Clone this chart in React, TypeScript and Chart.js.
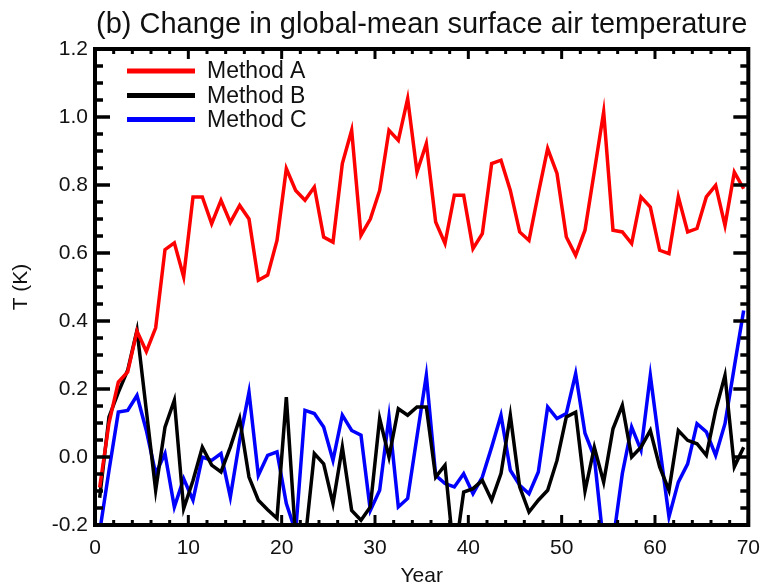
import React, { useEffect, useRef } from "react";
import { Chart, registerables } from "chart.js";

Chart.register(...registerables);

// Model years: annual means plotted at mid-year
const YEARS: number[] = Array.from({ length: 70 }, (_, i) => i + 0.5);

const METHOD_A: number[] = [
  -0.09, 0.1, 0.22, 0.25, 0.37, 0.31, 0.38, 0.61, 0.63, 0.53,
  0.765, 0.765, 0.686, 0.755, 0.69, 0.74, 0.7, 0.52, 0.535, 0.637,
  0.848, 0.784, 0.755, 0.794, 0.647, 0.632, 0.863, 0.961, 0.652, 0.7,
  0.784, 0.961, 0.931, 1.054, 0.838, 0.922, 0.691, 0.628, 0.77, 0.77,
  0.613, 0.657, 0.863, 0.873, 0.784, 0.662, 0.637, 0.775, 0.907, 0.834,
  0.647, 0.593, 0.667, 0.84, 1.015, 0.667, 0.662, 0.628, 0.765, 0.735,
  0.608, 0.598, 0.765, 0.662, 0.672, 0.765, 0.799, 0.681, 0.838, 0.789,
];

const METHOD_B: number[] = [
  -0.12, 0.118, 0.19, 0.255, 0.373, 0.137, -0.098, 0.088, 0.167, -0.152,
  -0.069, 0.029, -0.024, -0.044, 0.029, 0.113, -0.059, -0.127, -0.155, -0.18,
  0.176, -0.24, -0.25, 0.01, -0.02, -0.137, 0.029, -0.157, -0.186, -0.147,
  0.113, 0.0, 0.142, 0.123, 0.147, 0.147, -0.059, -0.024, -0.3, -0.103,
  -0.093, -0.069, -0.127, -0.049, 0.123, -0.088, -0.162, -0.127, -0.098, -0.01,
  0.118, 0.132, -0.1, 0.029, -0.074, 0.083, 0.152, 0.0, 0.029, 0.078,
  -0.029, -0.098, 0.078, 0.049, 0.039, 0.005, 0.137, 0.24, -0.029, 0.029,
];

const METHOD_C: number[] = [
  -0.22, -0.04, 0.132, 0.137, 0.181, 0.078, -0.049, 0.01, -0.147, -0.064,
  -0.127, 0.0, -0.01, 0.01, -0.118, 0.049, 0.191, -0.054, 0.005, 0.015,
  -0.137, -0.22, 0.137, 0.128, 0.088, -0.01, 0.123, 0.078, 0.064, -0.157,
  -0.098, 0.118, -0.147, -0.122, 0.06, 0.24, -0.054, -0.078, -0.088, -0.049,
  -0.108, -0.059, 0.029, 0.123, -0.039, -0.083, -0.108, -0.044, 0.147, 0.113,
  0.128, 0.245, 0.07, 0.0, -0.26, -0.25, -0.049, 0.088, 0.02, 0.24,
  0.03, -0.176, -0.074, -0.02, 0.098, 0.074, 0.005, 0.098, 0.265, 0.431,
];

const SERIES_NAMES: string[] = ["Method A", "Method B", "Method C"];
const SERIES_COLORS: string[] = ["#ff0000", "#000000", "#0000ff"];
const TITLE = "(b) Change in global-mean surface air temperature";

const FONT = "'Liberation Sans', Arial, sans-serif";
const TEXT_COLOR = "#111";

const toPoints = (ys: number[]) => ys.map((y, i) => ({ x: YEARS[i], y }));

// Boxed frame with inward ticks on all four sides, legend and title
const framePlugin = {
  id: "frame",
  afterDatasetsDraw(chart: any) {
    const { ctx, chartArea: a, scales } = chart;
    const x = scales.x;
    const y = scales.y;
    ctx.save();
    ctx.strokeStyle = "#000";
    ctx.lineCap = "butt";

    const seg = (x1: number, y1: number, x2: number, y2: number) => {
      ctx.beginPath();
      ctx.moveTo(x1, y1);
      ctx.lineTo(x2, y2);
      ctx.stroke();
    };

    ctx.lineWidth = 3;
    for (let v = 0; v <= 70; v += 2) {
      const px = x.getPixelForValue(v);
      const len = v % 10 === 0 ? 10 : 5;
      seg(px, a.bottom, px, a.bottom - len);
      seg(px, a.top, px, a.top + len);
    }
    ctx.lineWidth = 3.5;
    for (let k = -4; k <= 24; k++) {
      const py = y.getPixelForValue(k * 0.05);
      const len = k % 4 === 0 ? 15 : 8;
      seg(a.left, py, a.left + len, py);
      seg(a.right, py, a.right - len, py);
    }

    ctx.lineWidth = 4;
    ctx.strokeRect(a.left, a.top, a.right - a.left, a.bottom - a.top);

    // legend
    const legendY = [71, 95.5, 119.5];
    ctx.font = `23px ${FONT}`;
    ctx.textBaseline = "middle";
    ctx.textAlign = "left";
    SERIES_NAMES.forEach((name, i) => {
      ctx.strokeStyle = SERIES_COLORS[i];
      ctx.lineWidth = 5;
      seg(127, legendY[i], 195, legendY[i]);
      ctx.fillStyle = TEXT_COLOR;
      ctx.fillText(name, 207, legendY[i] + 1);
    });

    // title
    ctx.font = `29px ${FONT}`;
    ctx.textAlign = "center";
    ctx.textBaseline = "alphabetic";
    ctx.fillStyle = TEXT_COLOR;
    ctx.fillText(TITLE, (a.left + a.right) / 2, 33);

    ctx.restore();
  },
};

export default function App() {
  const canvasRef = useRef<HTMLCanvasElement | null>(null);

  useEffect(() => {
    if (!canvasRef.current) return;
    const series = [METHOD_A, METHOD_B, METHOD_C];
    const chart = new Chart(canvasRef.current, {
      type: "line",
      data: {
        datasets: series.map((ys, i) => ({
          label: SERIES_NAMES[i],
          data: toPoints(ys),
          borderColor: SERIES_COLORS[i],
          backgroundColor: SERIES_COLORS[i],
          borderWidth: 3.5,
          pointRadius: 0,
          tension: 0,
          fill: false,
        })),
      },
      options: {
        responsive: false,
        animation: false,
        devicePixelRatio: 1,
        layout: { padding: { top: 49, right: 17, left: 0, bottom: 0 } },
        plugins: {
          legend: { display: false },
          title: { display: false },
          tooltip: { enabled: false },
        },
        scales: {
          x: {
            type: "linear",
            min: 0,
            max: 70,
            grid: { display: false, drawTicks: false },
            border: { display: false },
            ticks: {
              stepSize: 10,
              padding: 11,
              color: TEXT_COLOR,
              font: { family: FONT, size: 21 },
              maxRotation: 0,
            },
            title: {
              display: true,
              text: "Year",
              color: TEXT_COLOR,
              font: { family: FONT, size: 21 },
              padding: { top: 0, bottom: 11 },
            },
            afterFit: (s: any) => {
              s.height = 75;
            },
          },
          y: {
            type: "linear",
            min: -0.2,
            max: 1.2,
            grid: { display: false, drawTicks: false },
            border: { display: false },
            ticks: {
              stepSize: 0.2,
              padding: 7,
              color: TEXT_COLOR,
              font: { family: FONT, size: 21 },
              callback: (v: any) => {
                const n = Number(v);
                return Math.abs(n) < 1e-9 ? "0.0" : n.toFixed(1);
              },
            },
            title: {
              display: true,
              text: "T (K)",
              color: TEXT_COLOR,
              font: { family: FONT, size: 21 },
              padding: { top: 9, bottom: 0 },
            },
            afterFit: (s: any) => {
              s.width = 95;
            },
          },
        },
      },
      plugins: [framePlugin],
    });
    return () => chart.destroy();
  }, []);

  return (
    <div
      style={{
        position: "fixed",
        left: 0,
        top: 0,
        width: 771,
        height: 582,
        overflow: "hidden",
        background: "#fff",
      }}
    >
      <canvas
        ref={canvasRef}
        width={771}
        height={600}
        style={{ display: "block", width: 771, height: 600 }}
      />
    </div>
  );
}
